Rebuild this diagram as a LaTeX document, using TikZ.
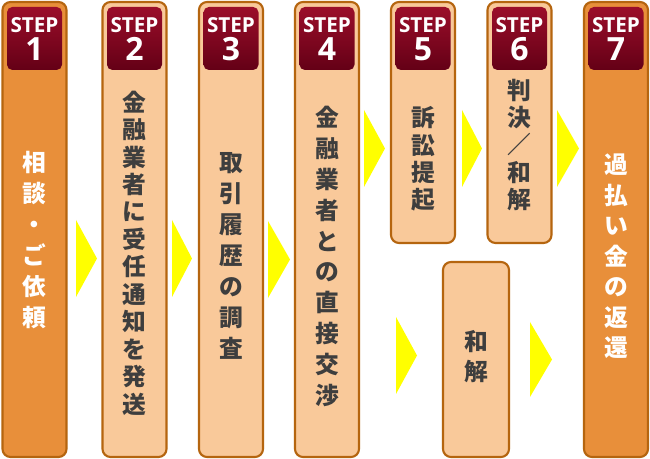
\documentclass[tikz,border=0pt]{standalone}
\usepackage{fontspec}
\newfontfamily\jpfont{Noto Sans CJK JP}
\newfontfamily\stepfont{Open Sans}
\definecolor{flowCardDark}{RGB}{232,143,58}
\definecolor{flowCardLight}{RGB}{249,201,154}
\definecolor{flowBorder}{RGB}{181,101,15}
\definecolor{flowBadgeTop}{RGB}{155,14,42}
\definecolor{flowBadgeBottom}{RGB}{100,0,22}
\definecolor{flowText}{RGB}{62,62,62}
\definecolor{flowArrow}{RGB}{255,255,0}

\begin{document}
\begin{tikzpicture}[x=.75pt,y=.75pt,
      card/.style={draw=flowBorder, line width=1.6pt, rounded corners=6},
      badge/.style={top color=flowBadgeTop, bottom color=flowBadgeBottom,
        rounded corners=4},
      steplabel/.style={font=\stepfont\bfseries\fontsize{15.5}{15.5}\selectfont,
        text=white, inner sep=0pt},
      stepnum/.style={font=\stepfont\bfseries\fontsize{24}{24}\selectfont,
        text=white, inner sep=0pt},
      vlabel/.style={font=\jpfont\bfseries\fontsize{17.8}{#1}\selectfont,
        align=center, inner sep=0pt},
      chevron/.style={fill=flowArrow}]
      \useasboundingbox (0,0) rectangle (650,459);
      \fill[white] (0,0) rectangle (650,459);

      \foreach \n/\cx/\bot/\tone in {1/34.5/2/flowCardDark,
          2/134.5/2/flowCardLight, 3/231/2/flowCardLight,
          4/327/2/flowCardLight, 5/423/216/flowCardLight,
          6/519.5/216/flowCardLight, 7/616/2/flowCardDark}{
        \path[card, fill=\tone] (\cx-32,\bot) rectangle (\cx+32,457);
        \path[badge] (\cx-27.5,389) rectangle (\cx+27.5,452);
        \node[steplabel] (steptag\n) at (\cx,434) {STEP};
        \node[stepnum] (stepnum\n) at (\cx,410) {\n};}
      \path[card, fill=flowCardLight] (443,2) rectangle (509,197);

      \node[vlabel=23.25, text=white] (consult) at (34.5,219)
        {相\\談\\・\\ご\\依\\頼};
      \node[vlabel=20.6, text=flowText] (notice) at (134.5,206)
        {金\\融\\業\\者\\に\\受\\任\\通\\知\\を\\発\\送};
      \node[vlabel=23.25, text=flowText] (history) at (231,203)
        {取\\引\\履\\歴\\の\\調\\査};
      \node[vlabel=23.1, text=flowText] (negotiate) at (327,202.5)
        {金\\融\\業\\者\\と\\の\\直\\接\\交\\渉};
      \node[vlabel=20.5, text=flowText] (lawsuit) at (423,300)
        {訴\\訟\\提\\起};
      \node[vlabel=20.6, text=flowText] (ruling) at (519.5,314)
        {判\\決\\／\\和\\解};
      \node[vlabel=22.9, text=white] (refund) at (616,202.5)
        {過\\払\\い\\金\\の\\返\\還};
      \node[vlabel=22.5, text=flowText] (settle) at (476,102)
        {和\\解};

      % chevrons between the steps
      \foreach \xl/\xr/\yt/\yb in {76/97/239/162, 172/192/239/162,
          268/290/238/161, 364/385/349/272, 462/482/349/272,
          557/579/349/272, 396/417/142/65, 530/552/137/62}{
        \path[chevron] (\xl,\yt) -- (\xr,{(\yt+\yb)/2}) -- (\xl,\yb) -- cycle;}
    \end{tikzpicture}
\end{document}
